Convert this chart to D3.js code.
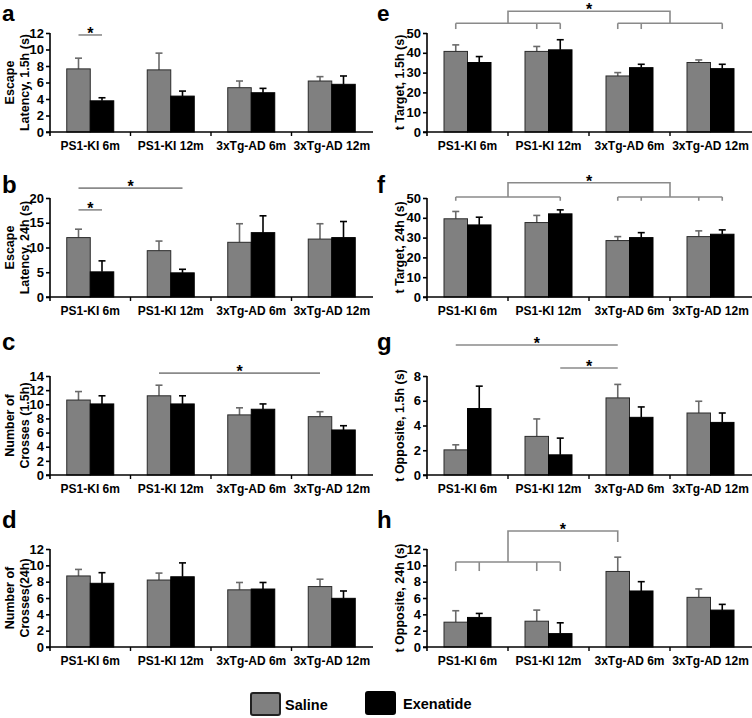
<!DOCTYPE html>
<html>
<head>
<meta charset="utf-8">
<script src="https://cdn.jsdelivr.net/npm/d3@7/dist/d3.min.js"></script>
<style>
  html, body { margin: 0; padding: 0; background: #fff; }
  svg { display: block; }
  text { font-family: "Liberation Sans", Arial, Helvetica, sans-serif; font-weight: bold; fill: #000; }
</style>
</head>
<body>
<svg id="chart" width="752" height="718"></svg>
<script>
// ---------------- DATA ----------------
const categories = ["PS1-KI 6m", "PS1-KI 12m", "3xTg-AD 6m", "3xTg-AD 12m"];
const seriesNames = ["Saline", "Exenatide"];

// panel a: Escape latency 1.5h
const aSaline = [7.65, 7.53, 5.37, 6.18];
const aSalineErr = [1.3, 2.03, 0.81, 0.53];
const aExen = [3.78, 4.35, 4.76, 5.78];
const aExenErr = [0.37, 0.61, 0.53, 1.01];
const aTicks = [0, 2, 4, 6, 8, 10, 12];

// panel b: Escape latency 24h
const bSaline = [12.0, 9.36, 11.05, 11.7];
const bSalineErr = [1.7, 1.94, 3.75, 3.1];
const bExen = [5.08, 4.88, 13.0, 12.0];
const bExenErr = [2.22, 0.72, 3.4, 3.25];
const bTicks = [0, 5, 10, 15, 20];

// panel c: Number of crosses 1.5h
const cSaline = [10.6, 11.2, 8.5, 8.25];
const cSalineErr = [1.2, 1.5, 1.0, 0.7];
const cExen = [10.05, 10.05, 9.3, 6.37];
const cExenErr = [1.15, 1.15, 0.75, 0.6];
const cTicks = [0, 2, 4, 6, 8, 10, 12, 14];

// panel d: Number of crosses 24h
const dSaline = [8.7, 8.2, 7.0, 7.4];
const dSalineErr = [0.8, 0.85, 0.9, 0.9];
const dExen = [7.8, 8.6, 7.1, 5.96];
const dExenErr = [1.3, 1.7, 0.8, 0.9];
const dTicks = [0, 2, 4, 6, 8, 10, 12];

// panel e: t Target 1.5h
const eSaline = [40.7, 40.7, 28.3, 35.1];
const eSalineErr = [3.3, 2.5, 1.7, 1.3];
const eExen = [35.1, 41.5, 32.5, 32.0];
const eExenErr = [3.0, 5.1, 1.7, 2.2];
const eTicks = [0, 10, 20, 30, 40, 50];

// panel f: t Target 24h
const fSaline = [39.5, 37.6, 28.5, 30.5];
const fSalineErr = [3.7, 3.6, 2.0, 2.9];
const fExen = [36.4, 42.0, 30.0, 31.7];
const fExenErr = [3.9, 2.0, 2.5, 2.2];
const fTicks = [0, 10, 20, 30, 40, 50];

// panel g: t Opposite 1.5h
const gSaline = [2.03, 3.12, 6.23, 5.01];
const gSalineErr = [0.41, 1.41, 1.09, 0.95];
const gExen = [5.37, 1.63, 4.66, 4.25];
const gExenErr = [1.81, 1.35, 0.84, 0.76];
const gTicks = [0, 2, 4, 6, 8];

// panel h: t Opposite 24h
const hSaline = [3.04, 3.16, 9.25, 6.08];
const hSalineErr = [1.4, 1.36, 1.75, 1.03];
const hExen = [3.62, 1.64, 6.86, 4.52];
const hExenErr = [0.49, 1.32, 1.14, 0.7];
const hTicks = [0, 2, 4, 6, 8, 10, 12];

// significance lines: [group, series] endpoints and level (data units)
const aSig = [{ from: [0, 0], to: [0, 1], level: 11.76 }];
const bSig = [{ from: [0, 0], to: [0, 1], level: 17.6 }, { from: [0, 0], to: [1, 1], level: 22.0 }];
const cSig = [{ from: [1, 0], to: [3, 0], level: 14.4 }];
const gSig = [{ from: [0, 0], to: [2, 0], level: 10.5 }, { from: [1, 1], to: [2, 0], level: 8.65 }];

// brackets (data units)
const eBracket = { left: [[0, 0], [1, 0], [1, 1]], right: [[2, 0], [2, 1], [3, 1]], low: 54.9, tickEnd: 52.0, top: 61.0, rightEnd: null };
const fBracket = { left: [[0, 0], [1, 1]], right: [[2, 0], [2, 1], [3, 0], [3, 1]], low: 50.5, tickEnd: 48.6, top: 57.7, rightEnd: null };
const hBracket = { left: [[0, 0], [0, 1], [1, 0], [1, 1]], right: [[2, 0]], low: 10.4, tickEnd: 9.3, top: 14.2, rightEnd: 12.85 };

// ---------------- LAYOUT ----------------
const colX = [[50, 372], [427, 751]];
const rowY = [[33, 132], [198, 297], [376, 475], [549, 647]];
const letterY = [21, 193, 350, 528];
const GRAY = "#808080";
const SIGC = "#8a8a8a";

const panels = [
  { letter: "a", col: 0, row: 0, ticks: aTicks, s: aSaline, se: aSalineErr, x: aExen, xe: aExenErr, title: ["Escape", "Latency, 1.5h (s)"], sig: aSig },
  { letter: "b", col: 0, row: 1, ticks: bTicks, s: bSaline, se: bSalineErr, x: bExen, xe: bExenErr, title: ["Escape", "Latency, 24h (s)"], sig: bSig },
  { letter: "c", col: 0, row: 2, ticks: cTicks, s: cSaline, se: cSalineErr, x: cExen, xe: cExenErr, title: ["Number of", "Crosses (1.5h)"], sig: cSig },
  { letter: "d", col: 0, row: 3, ticks: dTicks, s: dSaline, se: dSalineErr, x: dExen, xe: dExenErr, title: ["Number of", "Crosses(24h)"], sig: [] },
  { letter: "e", col: 1, row: 0, ticks: eTicks, s: eSaline, se: eSalineErr, x: eExen, xe: eExenErr, title: ["t Target, 1.5h (s)"], sig: [], bracket: eBracket },
  { letter: "f", col: 1, row: 1, ticks: fTicks, s: fSaline, se: fSalineErr, x: fExen, xe: fExenErr, title: ["t Target, 24h (s)"], sig: [], bracket: fBracket },
  { letter: "g", col: 1, row: 2, ticks: gTicks, s: gSaline, se: gSalineErr, x: gExen, xe: gExenErr, title: ["t Opposite, 1.5h (s)"], sig: gSig },
  { letter: "h", col: 1, row: 3, ticks: hTicks, s: hSaline, se: hSalineErr, x: hExen, xe: hExenErr, title: ["t Opposite, 24h (s)"], sig: [], bracket: hBracket }
];

const svg = d3.select("#chart");
const BARW = 23.5;

panels.forEach(p => {
  const [x0, x1] = colX[p.col];
  const [yTop, yBot] = rowY[p.row];
  const g = svg.append("g");

  const x = d3.scaleBand().domain(categories).range([x0, x1]).paddingInner(0).paddingOuter(0);
  const xs = d3.scaleBand().domain(seriesNames).range([-BARW, BARW]);
  const y = d3.scaleLinear().domain([0, d3.max(p.ticks)]).range([yBot, yTop]);
  const cx = (gi, si) => x(categories[gi]) + x.bandwidth() / 2 + xs(seriesNames[si]) + xs.bandwidth() / 2;

  // panel letter
  g.append("text").attr("x", p.col === 0 ? 2 : 377).attr("y", letterY[p.row])
    .style("font-size", p.row === 0 ? "22.5px" : "24px").text(p.letter);

  const rows = categories.map((c, i) => ([
    { cat: c, ser: "Saline", v: p.s[i], e: p.se[i] },
    { cat: c, ser: "Exenatide", v: p.x[i], e: p.xe[i] }
  ])).flat();

  // error bars (upper whisker only)
  const eb = g.append("g");
  rows.forEach(r => {
    const cxx = x(r.cat) + x.bandwidth() / 2 + xs(r.ser) + xs.bandwidth() / 2;
    const col = r.ser === "Saline" ? "#6a6a6a" : "#000";
    eb.append("line").attr("x1", cxx).attr("x2", cxx).attr("y1", y(r.v)).attr("y2", y(r.v + r.e))
      .attr("stroke", col).attr("stroke-width", 1.6);
    eb.append("line").attr("x1", cxx - 3.5).attr("x2", cxx + 3.5).attr("y1", y(r.v + r.e)).attr("y2", y(r.v + r.e))
      .attr("stroke", col).attr("stroke-width", 1.6);
  });

  g.append("g").selectAll("rect").data(rows).join("rect")
    .attr("x", d => x(d.cat) + x.bandwidth() / 2 + xs(d.ser))
    .attr("width", xs.bandwidth())
    .attr("y", d => y(d.v))
    .attr("height", d => y(0) - y(d.v))
    .attr("fill", d => d.ser === "Saline" ? GRAY : "#000")
    .attr("stroke", d => d.ser === "Saline" ? "#2a2a2a" : "#000")
    .attr("stroke-width", 1);

  // y axis
  const yAxis = d3.axisLeft(y).tickValues(p.ticks).tickSize(4).tickPadding(2).tickFormat(d3.format("d"));
  const ya = g.append("g").attr("transform", `translate(${x0},0)`).call(yAxis);
  ya.select(".domain").attr("d", `M0,${yTop}V${yBot + 4}`).attr("stroke", "#000").attr("stroke-width", 1.6);
  ya.selectAll(".tick line").attr("stroke", "#000").attr("stroke-width", 1.6);
  ya.selectAll(".tick text").style("font-size", "13px").style("font-family", "'Liberation Sans', Arial, sans-serif").style("font-weight", "bold").attr("fill", "#000");

  // x axis
  const xa = g.append("g").attr("transform", `translate(0,${yBot})`);
  xa.append("line").attr("x1", x0 - 4).attr("x2", x1 + 1).attr("y1", 0).attr("y2", 0).attr("stroke", "#000").attr("stroke-width", 1.6);
  categories.slice(1).forEach(c => {
    xa.append("line").attr("x1", x(c)).attr("x2", x(c)).attr("y1", 0).attr("y2", 4).attr("stroke", "#000").attr("stroke-width", 1.4);
  });
  xa.selectAll("text.cat").data(categories).join("text").attr("class", "cat")
    .attr("x", c => x(c) + x.bandwidth() / 2).attr("y", 18)
    .attr("text-anchor", "middle").style("font-size", "12px").text(c => c);

  // y title
  const ymid = (yTop + yBot) / 2;
  if (p.title.length === 2) {
    [[x0 - 41, p.title[0]], [x0 - 26, p.title[1]]].forEach(([tx, t]) => {
      g.append("text").attr("transform", `translate(${tx + 5},${ymid}) rotate(-90)`)
        .attr("text-anchor", "middle").style("font-size", "12.5px").text(t);
    });
  } else {
    g.append("text").attr("transform", `translate(${x0 - 23},${ymid}) rotate(-90)`)
      .attr("text-anchor", "middle").style("font-size", "12.5px").text(p.title[0]);
  }

  const star = (sx, ly) => g.append("text").attr("x", sx).attr("y", ly + 6).attr("text-anchor", "middle")
    .style("font-size", "16px").text("*");

  // simple significance lines
  p.sig.forEach(s => {
    const xa1 = cx(s.from[0], s.from[1]), xa2 = cx(s.to[0], s.to[1]);
    const ly = y(s.level);
    g.append("line").attr("x1", xa1).attr("x2", xa2).attr("y1", ly).attr("y2", ly)
      .attr("stroke", SIGC).attr("stroke-width", 1.6);
    star((xa1 + xa2) / 2, ly - 2);
  });

  // brackets
  if (p.bracket) {
    const b = p.bracket;
    const yl = y(b.low), yt = y(b.tickEnd), ytop = y(b.top);
    const mids = [];
    [b.left, b.right].forEach(list => {
      const xsArr = list.map(d => cx(d[0], d[1]));
      const mn = d3.min(xsArr), mx = d3.max(xsArr);
      if (list.length > 1) {
        g.append("line").attr("x1", mn).attr("x2", mx).attr("y1", yl).attr("y2", yl).attr("stroke", SIGC).attr("stroke-width", 1.6);
        xsArr.forEach(xx => g.append("line").attr("x1", xx).attr("x2", xx).attr("y1", yl).attr("y2", yt).attr("stroke", SIGC).attr("stroke-width", 1.6));
        mids.push({ x: (mn + mx) / 2, y: yl });
      } else {
        mids.push({ x: mn, y: y(b.rightEnd) });
      }
    });
    g.append("path")
      .attr("d", `M${mids[0].x},${mids[0].y}V${ytop}H${mids[1].x}V${mids[1].y}`)
      .attr("fill", "none").attr("stroke", SIGC).attr("stroke-width", 1.6);
    star((mids[0].x + mids[1].x) / 2, ytop - 2);
  }
});

// ---------------- LEGEND ----------------
const legend = svg.append("g");
const legendItems = [
  { name: seriesNames[0], fill: GRAY, stroke: "#222", bx: 251, by: 693, tx: 285 },
  { name: seriesNames[1], fill: "#000", stroke: "#000", bx: 366, by: 692, tx: 403 }
];
legendItems.forEach(it => {
  legend.append("rect").attr("x", it.bx).attr("y", it.by).attr("width", 29).attr("height", 22).attr("rx", 2)
    .attr("fill", it.fill).attr("stroke", it.stroke).attr("stroke-width", 2);
  legend.append("text").attr("x", it.tx).attr("y", it.by + 17).style("font-size", "14.5px").text(it.name);
});
</script>
</body>
</html>
